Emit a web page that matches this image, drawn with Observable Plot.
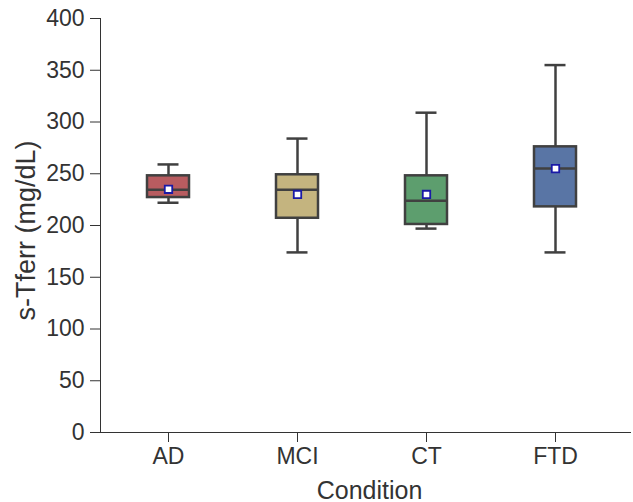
<!DOCTYPE html>
<html>
<head>
<meta charset="utf-8">
<script src="https://cdn.jsdelivr.net/npm/d3@7"></script>
<script src="https://cdn.jsdelivr.net/npm/@observablehq/plot@0.6"></script>
<style>
  html, body { margin: 0; padding: 0; background: #fff; }
</style>
</head>
<body>
<div id="chart"></div>
<script>
const conditions = ["AD", "MCI", "CT", "FTD"];
const whiskerLow = [222, 174, 197, 174];
const q1 = [227, 207, 201, 218];
const median = [234.5, 234.5, 224, 255];
const q3 = [248, 249, 248, 276];
const whiskerHigh = [259, 284, 309, 355];
const means = [235, 230, 230, 255];
const boxColors = ["#b85c60", "#c4b47f", "#5d9e6e", "#5975a5"];
const yTicks = [0, 50, 100, 150, 200, 250, 300, 350, 400];

const rows = conditions.map((c, i) => ({
  c, lo: whiskerLow[i], q1: q1[i], med: median[i], q3: q3[i], hi: whiskerHigh[i], mean: means[i]
}));

const edge = "#404040";
const chart = Plot.plot({
  width: 633,
  height: 502,
  marginLeft: 100,
  marginRight: 3,
  marginTop: 18,
  marginBottom: 70,
  style: { fontSize: "23px", fontFamily: "'Liberation Sans', Arial, sans-serif", color: "#333", background: "#fff" },
  x: {
    domain: conditions, paddingInner: 0.676, paddingOuter: 0.381, align: 0.465,
    label: "Condition", labelAnchor: "center", labelOffset: 66, tickSize: 10, tickPadding: 5, line: true
  },
  y: {
    domain: [0, 400], ticks: yTicks, tickSize: 10, tickPadding: 6,
    label: "s-Tferr (mg/dL)", labelAnchor: "center", labelOffset: 85, line: true, labelArrow: "none"
  },
  color: { domain: conditions, range: boxColors },
  marks: [
    Plot.ruleX(rows, { x: "c", y1: "lo", y2: "q1", stroke: edge, strokeWidth: 2.5 }),
    Plot.ruleX(rows, { x: "c", y1: "q3", y2: "hi", stroke: edge, strokeWidth: 2.5 }),
    Plot.barY(rows, { x: "c", y1: "q1", y2: "q3", fill: "c", stroke: edge, strokeWidth: 2.5 }),
    Plot.tickY(rows, { x: "c", y: "med", stroke: edge, strokeWidth: 2.5 }),
    Plot.tickY(rows, { x: "c", y: "lo", stroke: edge, strokeWidth: 2.5, insetLeft: 10.5, insetRight: 10.5 }),
    Plot.tickY(rows, { x: "c", y: "hi", stroke: edge, strokeWidth: 2.5, insetLeft: 10.5, insetRight: 10.5 }),
    Plot.dot(rows, { x: "c", y: "mean", symbol: "square", r: 4.2, fill: "white", stroke: "#1a1aa6", strokeWidth: 1.8 })
  ]
});
chart.querySelectorAll("[aria-label$='axis'] path, [aria-label$='axis'] line").forEach(e => { e.setAttribute("stroke", "#333"); e.setAttribute("stroke-width", "2"); });
chart.querySelectorAll("g[font-size]").forEach(g => g.setAttribute("font-size", "23"));
chart.querySelectorAll("text").forEach(t => {
  t.setAttribute("font-size", "23");
  t.setAttribute("fill", "#333");
  if (t.textContent.includes("→")) t.textContent = t.textContent.replace(/\s*→\s*/, "");
  if (t.textContent === "Condition") { t.setAttribute("font-size", "25"); t.setAttribute("dx", "4"); }
  if (t.textContent === "s-Tferr (mg/dL)") { t.setAttribute("font-size", "27"); t.setAttribute("dx", "-5"); }
});
document.getElementById("chart").appendChild(chart);
</script>
</body>
</html>
